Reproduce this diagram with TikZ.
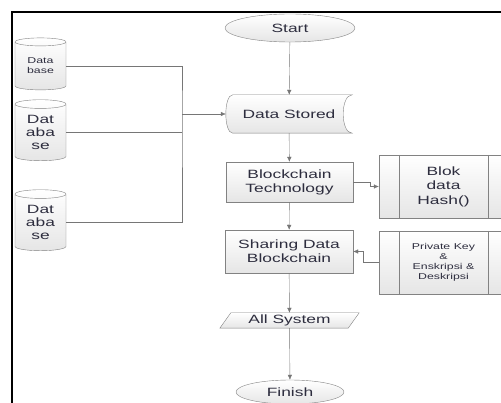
\documentclass[tikz,border=0pt]{standalone}
\usepackage{fontspec}
\setmainfont[FakeStretch=1.45]{Liberation Sans}
\usetikzlibrary{shapes.geometric,arrows.meta,backgrounds}
\definecolor{boxline}{RGB}{130,130,130}
\definecolor{linkline}{RGB}{118,118,118}
\definecolor{txt}{RGB}{45,45,62}

\begin{document}
\begin{tikzpicture}[x=1pt,y=-1pt,
	every node/.style={text=txt,font=\fontsize{12}{14}\selectfont,align=center,inner sep=0pt},
	shade/.style={draw=boxline,top color=white,bottom color=gray!20},
	box/.style={shade,minimum width=127pt,minimum height=40pt},
	proc/.style={box,minimum width=129pt,minimum height=63pt,font=\fontsize{12}{14.5}\selectfont},
	term/.style={ellipse,shade},
	db/.style={cylinder,shape border rotate=90,aspect=0.3,shade,minimum width=51pt,minimum height=61pt,font=\fontsize{12}{13}\selectfont},
	link/.style={draw=linkline},
	arr/.style={link,-{Latex[length=5pt,width=4.5pt]}}]
	\useasboundingbox (0,0) rectangle (501,403);
	\clip (0,0) rectangle (501,403);
	\draw[line width=2pt] (501,12) -- (12,12) -- (12,403);
	\node[term,minimum width=130pt,minimum height=28pt] (start) at (290,28) {Start};
	\node[minimum width=126pt,minimum height=38pt] (stored) at (289,114) {Data Stored};
	\begin{scope}[on background layer]
		\draw[shade] ([xshift=7pt]stored.north west) -- (stored.north east) .. controls ([xshift=-12pt]stored.north east) and ([xshift=-12pt]stored.south east) .. (stored.south east) -- ([xshift=7pt]stored.south west) .. controls ([xshift=-2.3pt]stored.south west) and ([xshift=-2.3pt]stored.north west) .. ([xshift=7pt]stored.north west) -- cycle;
	\end{scope}
	\node[box] (tech) at (289.5,182) {Blockchain\\Technology};
	\node[box,minimum width=128pt,minimum height=43pt] (share) at (289,251.5) {Sharing Data\\Blockchain};
	\node[minimum width=128pt,minimum height=15pt] (allsys) at (289.5,320.5) {All System};
	\begin{scope}[on background layer]
		\draw[shade] ([xshift=-5.5pt]allsys.south west) -- ([xshift=-5.5pt]allsys.south east) -- ([xshift=5.5pt]allsys.north east) -- ([xshift=5.5pt]allsys.north west) -- cycle;
	\end{scope}
	\node[term,minimum width=108pt,minimum height=24pt] (finish) at (290,392) {Finish};
	\node[proc] (blok) at (443.5,186.5) {Blok\\data\\Hash()};
	\node[proc,font=\fontsize{8.5}{10}\selectfont] (priv) at (443.5,262.5) {Private Key\\\&\\Enskripsi \&\\Deskripsi};
	\foreach \p in {blok,priv} {
		\draw[boxline] ([xshift=20pt]\p.north west) -- ([xshift=20pt]\p.south west);
		\draw[boxline] ([xshift=-20pt]\p.north east) -- ([xshift=-20pt]\p.south east);
	}
	\node[db,minimum height=52pt,font=\fontsize{8.5}{10}\selectfont] (db1) at (40.5,66) {Data\\base};
	\node[db] (db2) at (40.5,132.5) {Dat\\aba\\se};
	\node[db] (db3) at (40.5,222.5) {Dat\\aba\\se};
	\coordinate (bus) at (182,114);
	\draw[link] (db1.east) -| (bus) |- (db3.east);
	\draw[link] (db2.east) -- (db2.east -| bus);
	\draw[arr] (bus) -- (stored.west);
	\draw[arr] (start) -- (stored);
	\draw[arr] (stored) -- (tech);
	\draw[arr] (tech) -- (share);
	\draw[arr] (share) -- (allsys);
	\draw[arr] (allsys) -- (finish);
	\draw[arr] (tech.east) -- ++(17,0) |- (blok.west);
	\draw[arr] (priv.west) -- ++(-16,0) |- (share.east);
\end{tikzpicture}
\end{document}
